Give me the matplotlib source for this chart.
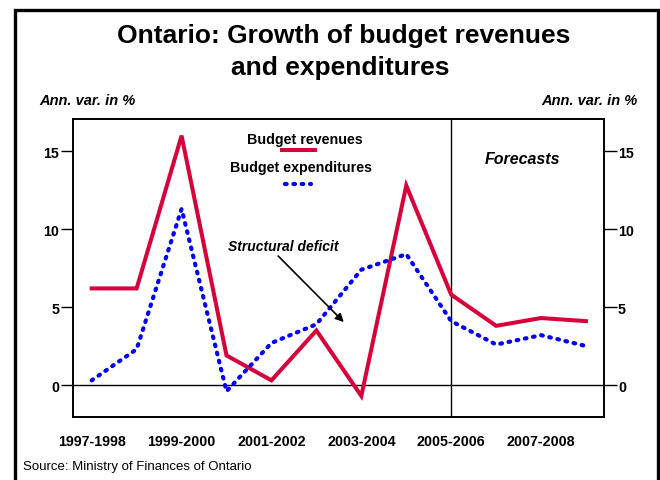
import matplotlib
matplotlib.use("Agg")
import matplotlib.pyplot as plt
from matplotlib.lines import Line2D
from matplotlib.patches import Rectangle

plt.rcParams['font.family'] = ['Liberation Sans', 'DejaVu Sans']

years = ["1997-1998", "1998-1999", "1999-2000", "2000-2001", "2001-2002", "2002-2003",
         "2003-2004", "2004-2005", "2005-2006", "2006-2007", "2007-2008", "2008-2009"]
revenues = [6.2, 6.2, 16.0, 1.9, 0.3, 3.5, -0.7, 12.8, 5.8, 3.8, 4.3, 4.1]
expenditures = [0.3, 2.3, 11.3, -0.4, 2.7, 3.9, 7.4, 8.4, 4.1, 2.6, 3.2, 2.5]
yticks = [0, 5, 10, 15]

W, H = 660, 481
fig = plt.figure(figsize=(6.6, 4.81), dpi=100)

def fx(px):
    return px / W

def fy(py):
    return 1 - py / H

ax = fig.add_axes([fx(73), fy(418), fx(604) - fx(73), fy(120) - fy(418)])
x = list(range(len(years)))
red = '#D6003A'
blue = '#0000FF'
dotted = (0, (0.4, 1.6))
ax.plot(x, revenues, color=red, lw=2.9, solid_joinstyle='miter', zorder=3)
ax.plot(x, expenditures, color=blue, lw=3.0, linestyle=dotted,
        dash_capstyle='round', zorder=3)
ax.axhline(0, color='black', lw=1.0, zorder=1)
ax.axvline(8, color='black', lw=1.0, zorder=1)

ax.set_xlim(-0.416, 11.40)
ax.set_ylim(-2.05, 17.07)
ax.set_yticks(yticks)
ax.set_yticklabels([str(v) for v in yticks], fontweight='bold', fontsize=10.3)
ax.tick_params(axis='y', which='both', direction='out', length=9, width=1,
               left=True, right=True, labelleft=True, labelright=True, pad=1)
ax.set_xticks(x[::2])
ax.set_xticklabels(years[::2], fontweight='bold', fontsize=10.3)
ax.tick_params(axis='x', length=0, pad=12)
for s in ax.spines.values():
    s.set_linewidth(1.4)

# Annotation arrow
ax.annotate('', xy=(5.61, 4.04), xytext=(4.15, 8.28),
            arrowprops=dict(arrowstyle='-|>', color='black', lw=1.2,
                            mutation_scale=12, shrinkA=0, shrinkB=0))
fig.text(fx(228), fy(247), 'Structural deficit', fontsize=10, fontweight='bold',
         style='italic', ha='left', va='center')

# Legend
fig.text(fx(305), fy(140), 'Budget revenues', fontsize=10.3, fontweight='bold',
         ha='center', va='center')
fig.add_artist(Line2D([fx(282), fx(315)], [fy(151), fy(151)], color=red, lw=2.9,
                      transform=fig.transFigure))
fig.text(fx(301), fy(168), 'Budget expenditures', fontsize=10.3, fontweight='bold',
         ha='center', va='center')
fig.add_artist(Line2D([fx(285), fx(311)], [fy(185), fy(185)], color=blue, lw=3.0,
                      linestyle=dotted, dash_capstyle='round',
                      transform=fig.transFigure))

fig.text(fx(522), fy(160), 'Forecasts', fontsize=11.5, fontweight='bold',
         style='italic', ha='center', va='center')

# Titles
fig.text(fx(344), fy(36), 'Ontario: Growth of budget revenues', fontsize=19,
         fontweight='bold', ha='center', va='center')
fig.text(fx(340), fy(68), 'and expenditures', fontsize=19,
         fontweight='bold', ha='center', va='center')
fig.text(fx(39), fy(101), 'Ann. var. in %', fontsize=10.5, fontweight='bold',
         style='italic', ha='left', va='center')
fig.text(fx(638), fy(101), 'Ann. var. in %', fontsize=10.5, fontweight='bold',
         style='italic', ha='right', va='center')
fig.text(fx(23), fy(467), 'Source: Ministry of Finances of Ontario', fontsize=9.5,
         ha='left', va='center')

# Outer frame
fig.add_artist(Rectangle((fx(14.5), fy(500)), fx(657.5) - fx(14.5), fy(11) - fy(500),
                         fill=False, edgecolor='black', lw=2.4,
                         transform=fig.transFigure))

fig.savefig('out.png', dpi=100)
